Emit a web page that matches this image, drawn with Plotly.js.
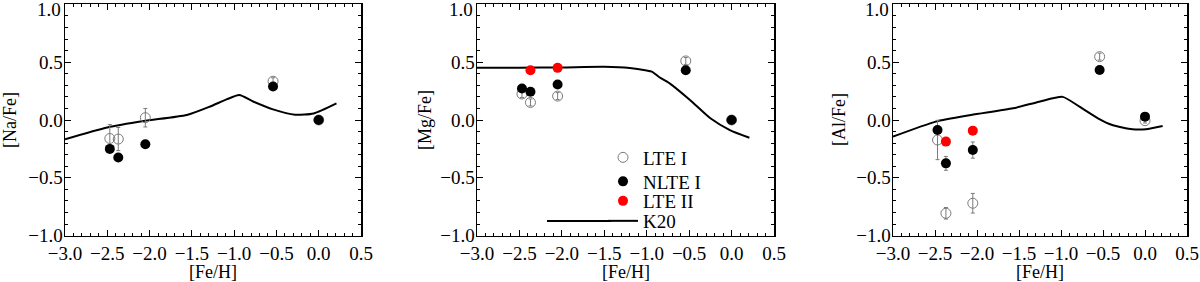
<!DOCTYPE html>
<html>
<head>
<meta charset="utf-8">
<script src="https://cdn.plot.ly/plotly-3.0.1.min.js"></script>
<style>html,body{margin:0;padding:0;background:#fff}#chart{width:1200px;height:282px}</style>
</head>
<body>
<div id="chart"></div>
<script>
// ---- data ----
const feh = [-2.47, -2.37, -2.05, -0.54, 0.0];
const fehII = [-2.37, -2.05];

const naLTE = [-0.16, -0.165, 0.02, 0.335, 0.0];
const naLTEerr = [0.12, 0.10, 0.08, 0.03, 0.02];
const naNLTE = [-0.25, -0.325, -0.21, 0.29, 0.0];

const mgLTE = [0.225, 0.152, 0.207, 0.511, 0.0];
const mgLTEerr = [0.03, 0.03, 0.03, 0.03, 0.02];
const mgNLTE = [0.273, 0.244, 0.307, 0.431, 0.0];
const mgLTEII = [0.431, 0.451];
const mgLTEIIerr = [0.03, 0.03];

const alLTE = [-0.173, -0.807, -0.72, 0.548, -0.006];
const alLTEerr = [0.17, 0.05, 0.085, 0.03, 0.02];
const alNLTE = [-0.087, -0.375, -0.26, 0.433, 0.029];
const alNLTEerr = [0, 0.06, 0.07, 0, 0];
const alLTEII = [-0.187, -0.092];

const k20NaX = [-3.0, -2.5, -2.07, -1.56, -1.29, -1.09, -0.94, -0.77, -0.54, -0.28, -0.06, 0.21];
const k20NaY = [-0.167, -0.065, -0.009, 0.043, 0.115, 0.178, 0.216, 0.158, 0.092, 0.046, 0.057, 0.144];

const k20MgX = [-3.0, -2.5, -2.0, -1.5, -1.2, -1.0, -0.94, -0.85, -0.73, -0.49, -0.25, -0.02, 0.21];
const k20MgY = [0.452, 0.452, 0.455, 0.46, 0.45, 0.428, 0.418, 0.37, 0.317, 0.173, 0.015, -0.087, -0.153];

const k20AlX = [-3.0, -2.49, -2.07, -1.57, -1.26, -0.98, -0.78, -0.56, -0.39, -0.15, 0.01, 0.21];
const k20AlY = [-0.144, -0.014, 0.043, 0.101, 0.158, 0.2, 0.115, 0.015, -0.043, -0.08, -0.08, -0.052];

const xTickVals = [-3.0, -2.5, -2.0, -1.5, -1.0, -0.5, 0.0, 0.5];
const xTickText = ['\u22123.0', '\u22122.5', '\u22122.0', '\u22121.5', '\u22121.0', '\u22120.5', '0.0', '0.5'];
const yTickVals = [-1.0, -0.5, 0.0, 0.5, 1.0];
const yTickText = ['\u22121.0', '\u22120.5', '0.0', '0.5', '1.0'];

const xTitle = '[Fe/H]';
const yTitles = ['[Na/Fe]', '[Mg/Fe]', '[Al/Fe]'];
const legendNames = ['LTE I', 'NLTE I', 'LTE II', 'K20'];

// ---- styles ----
const FONT = 'Liberation Serif, Times New Roman, serif';
const W = 1200, H = 282;
const panelsPx = [[65, 361], [477, 774], [893, 1187]];
const yDomPx = [4.4, 235.6];
const grey = '#7a7a7a';
const legendX = 603;
const legendYs = [157.5, 181.5, 201, 221];

function openTrace(x, y, err, ax, show) {
  return {x, y, type: 'scatter', mode: 'markers', name: legendNames[0], legend: 'legend',
    showlegend: show, xaxis: 'x' + ax, yaxis: 'y' + ax,
    marker: {symbol: 'circle-open', size: 10, color: grey, line: {width: 1, color: grey}},
    error_y: {type: 'data', array: err, visible: true, color: grey, thickness: 1, width: 2}};
}
function nlteTrace(x, y, err, ax, show) {
  const t = {x, y, type: 'scatter', mode: 'markers', name: legendNames[1], legend: 'legend2',
    showlegend: show, xaxis: 'x' + ax, yaxis: 'y' + ax,
    marker: {symbol: 'circle', size: 10, color: '#000'}};
  if (err) t.error_y = {type: 'data', array: err, visible: true, color: grey, thickness: 1, width: 2};
  return t;
}
function lteIITrace(x, y, err, ax, show) {
  const t = {x, y, type: 'scatter', mode: 'markers', name: legendNames[2], legend: 'legend3',
    showlegend: show, xaxis: 'x' + ax, yaxis: 'y' + ax,
    marker: {symbol: 'circle', size: 10, color: '#ff0000'}};
  if (err) t.error_y = {type: 'data', array: err, visible: true, color: '#ff6060', thickness: 1, width: 2};
  return t;
}
function lineTrace(x, y, ax, show) {
  return {x, y, type: 'scatter', mode: 'lines', name: legendNames[3], legend: 'legend4',
    showlegend: show, xaxis: 'x' + ax, yaxis: 'y' + ax,
    line: {color: '#000', width: 2, shape: 'spline', smoothing: 0.6}};
}

const data = [
  lineTrace(k20NaX, k20NaY, '', false),
  openTrace(feh, naLTE, naLTEerr, '', false),
  nlteTrace(feh, naNLTE, null, '', false),

  lineTrace(k20MgX, k20MgY, '2', true),
  openTrace(feh, mgLTE, mgLTEerr, '2', true),
  nlteTrace(feh, mgNLTE, null, '2', true),
  lteIITrace(fehII, mgLTEII, mgLTEIIerr, '2', true),

  lineTrace(k20AlX, k20AlY, '3', false),
  openTrace(feh, alLTE, alLTEerr, '3', false),
  nlteTrace(feh, alNLTE, alNLTEerr, '3', false),
  lteIITrace(fehII, alLTEII, null, '3', false)
];

function xAxis(i, anchor) {
  return {domain: [panelsPx[i][0] / W, panelsPx[i][1] / W], anchor, range: [-3, 0.5],
    tickmode: 'array', tickvals: xTickVals, ticktext: xTickText,
    ticks: 'inside', ticklen: 6, tickwidth: 1, tickcolor: '#000',
    minor: {tick0: 0, dtick: 0.1, ticks: 'inside', ticklen: 3, tickwidth: 1, tickcolor: '#000'},
    mirror: 'allticks', showline: true, linewidth: 1.5, linecolor: '#000',
    showgrid: false, zeroline: false, fixedrange: true, ticklabeloverflow: 'allow',
    tickfont: {family: FONT, size: 19, color: '#000'}};
}
// the top label (1.0) sits at the figure's top edge; it is drawn as an annotation nudged down so it is not clipped
const yTickTextAxis = yTickText.map((t, k) => k === yTickText.length - 1 ? '' : t);
function yAxis(anchor) {
  return {domain: [1 - yDomPx[1] / H, 1 - yDomPx[0] / H], anchor, range: [-1, 1],
    tickmode: 'array', tickvals: yTickVals, ticktext: yTickTextAxis,
    ticks: 'inside', ticklen: 6, tickwidth: 1, tickcolor: '#000',
    minor: {tick0: 0, dtick: 0.1, ticks: 'inside', ticklen: 3, tickwidth: 1, tickcolor: '#000'},
    mirror: 'allticks', showline: true, linewidth: 1.5, linecolor: '#000',
    showgrid: false, zeroline: false, fixedrange: true, ticklabeloverflow: 'allow',
    ticklabelstandoff: -3,
    tickfont: {family: FONT, size: 19, color: '#000'}};
}

const annotations = [];
const yTitleX = [10, 425, 839];
const axSuffix = ['', '2', '3'];
for (let i = 0; i < 3; i++) {
  annotations.push({text: xTitle, xref: 'paper', yref: 'paper',
    x: (panelsPx[i][0] + panelsPx[i][1]) / 2 / W, y: 1 - 271.5 / H,
    xanchor: 'center', yanchor: 'middle', showarrow: false,
    font: {family: FONT, size: 18, color: '#000'}});
  annotations.push({text: yTitles[i], xref: 'paper', yref: 'paper',
    x: yTitleX[i] / W, y: 1 - 120 / H, textangle: -90,
    xanchor: 'center', yanchor: 'middle', showarrow: false,
    font: {family: FONT, size: 18, color: '#000'}});
  annotations.push({text: yTickText[yTickText.length - 1],
    xref: 'x' + axSuffix[i] + ' domain', yref: 'y' + axSuffix[i],
    x: 0, y: yTickVals[yTickVals.length - 1], xanchor: 'right', yanchor: 'middle',
    xshift: -2, yshift: -5, showarrow: false,
    font: {family: FONT, size: 19, color: '#000'}});
}

function legendBox(i) {
  return {x: legendX / W, y: 1 - legendYs[i] / H, xanchor: 'left', yanchor: 'middle',
    bgcolor: 'rgba(0,0,0,0)', borderwidth: 0,
    font: {family: FONT, size: 19, color: '#000'}, itemwidth: 30};
}

const layout = {
  width: W, height: H, margin: {l: 0, r: 0, t: 0, b: 0},
  paper_bgcolor: '#fff', plot_bgcolor: '#fff',
  xaxis: xAxis(0, 'y'), yaxis: yAxis('x'),
  xaxis2: xAxis(1, 'y2'), yaxis2: yAxis('x2'),
  xaxis3: xAxis(2, 'y3'), yaxis3: yAxis('x3'),
  showlegend: true,
  legend: legendBox(0), legend2: legendBox(1), legend3: legendBox(2), legend4: legendBox(3),
  shapes: [{type: 'line', xref: 'paper', yref: 'paper',
    x0: 547 / W, x1: (legendX + 8) / W, y0: 1 - legendYs[3] / H, y1: 1 - legendYs[3] / H,
    line: {color: '#000', width: 2}}],
  annotations
};

Plotly.newPlot('chart', data, layout, {staticPlot: true, displayModeBar: false});
</script>
</body>
</html>
